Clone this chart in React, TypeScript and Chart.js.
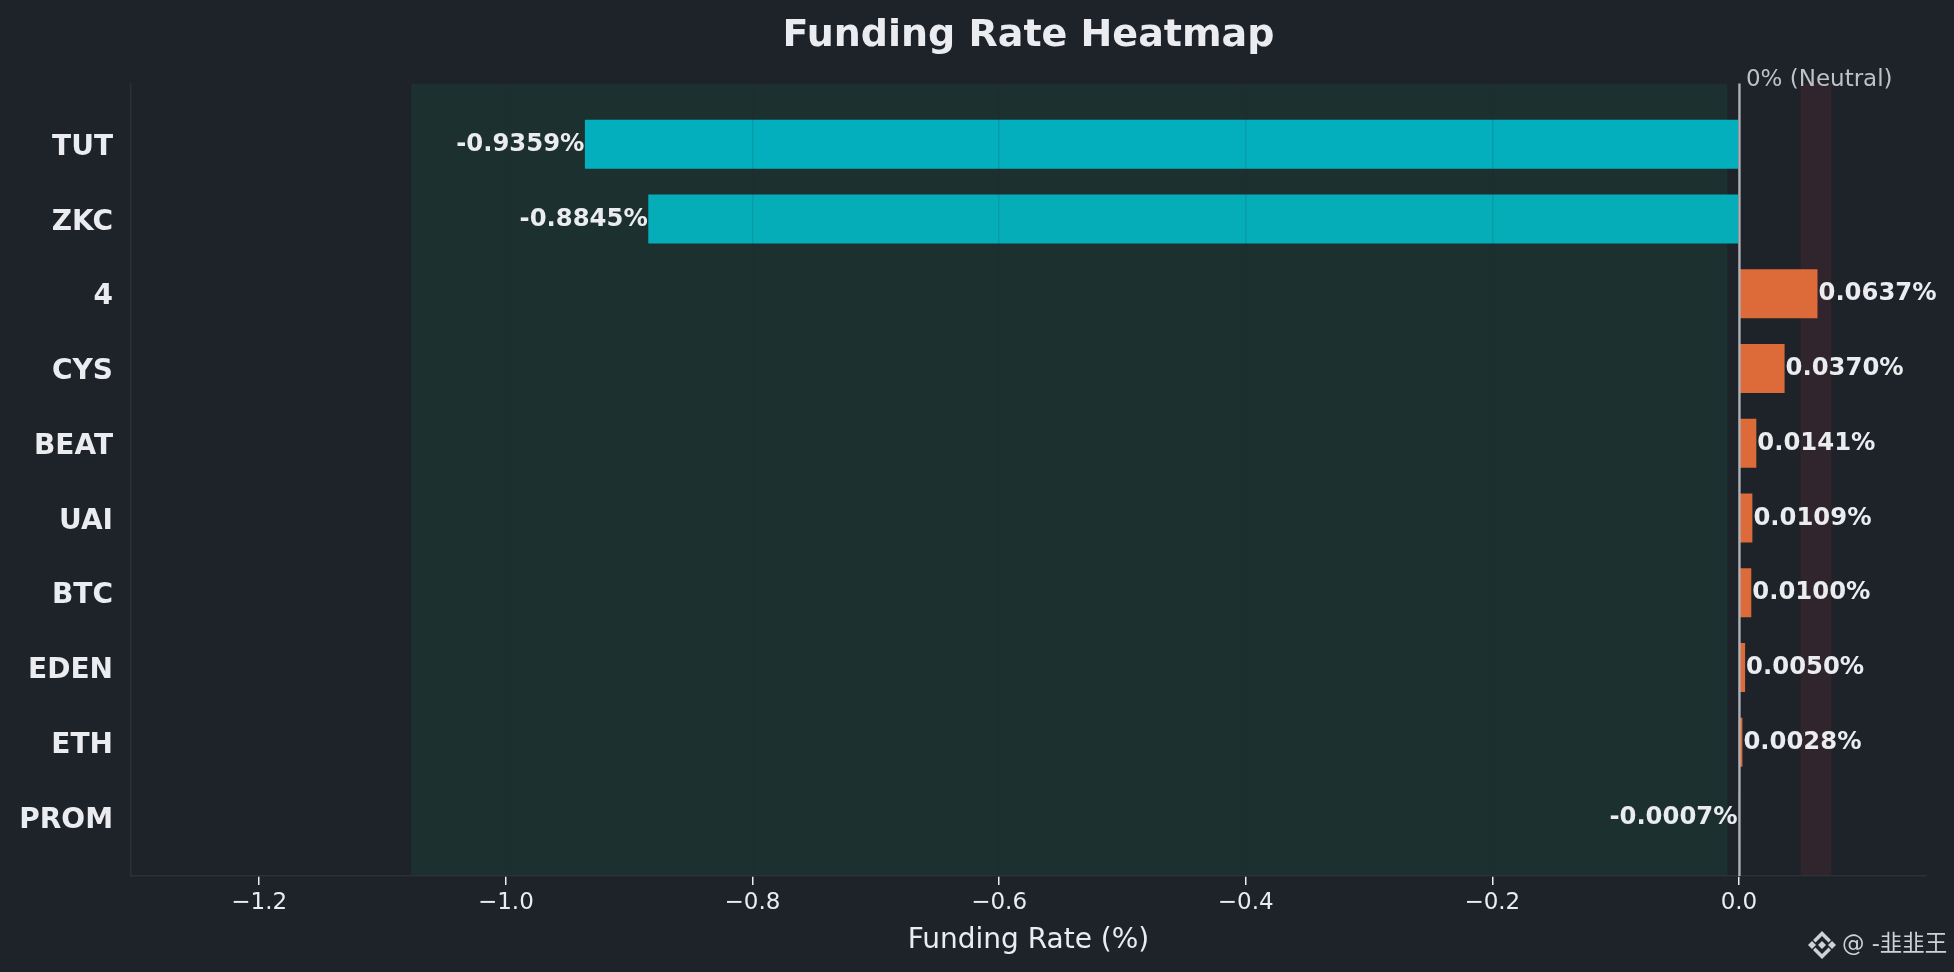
import React, { useEffect, useRef } from "react";
import { Chart, registerables } from "chart.js";

Chart.register(...registerables);

const categories = ["TUT", "ZKC", "4", "CYS", "BEAT", "UAI", "BTC", "EDEN", "ETH", "PROM"];
const fundingRates = [-0.9359, -0.8845, 0.0637, 0.037, 0.0141, 0.0109, 0.01, 0.005, 0.0028, -0.0007];
const valueLabels = ["-0.9359%", "-0.8845%", "0.0637%", "0.0370%", "0.0141%", "0.0109%", "0.0100%", "0.0050%", "0.0028%", "-0.0007%"];
const negativeBand = [-1.076, -0.01];
const positiveBand = [0.05, 0.075];

const FONT = '"DejaVu Sans", sans-serif';
const BG = "#1e2329";
const TEXT = "#eaecef";
const SPINE = "#2b3139";

const decor = {
  id: "decor",
  beforeDraw(c: any) {
    const { ctx, width, height } = c;
    ctx.save();
    ctx.fillStyle = BG;
    ctx.fillRect(0, 0, width, height);
    ctx.restore();
  },
  beforeDatasetsDraw(c: any) {
    const { ctx, chartArea: a, scales } = c;
    const x = scales.x;
    ctx.save();
    const band = (b: number[], fill: string, edge: string) => {
      const l = x.getPixelForValue(b[0]);
      const r = x.getPixelForValue(b[1]);
      ctx.fillStyle = fill;
      ctx.fillRect(l, a.top, r - l, a.bottom - a.top);
      ctx.strokeStyle = edge;
      ctx.lineWidth = 2;
      ctx.beginPath();
      ctx.moveTo(l, a.top);
      ctx.lineTo(l, a.bottom);
      ctx.moveTo(r, a.top);
      ctx.lineTo(r, a.bottom);
      ctx.stroke();
    };
    band(negativeBand, "rgba(14,203,129,0.08)", "rgba(14,203,129,0.05)");
    band(positiveBand, "rgba(246,70,93,0.085)", "rgba(246,70,93,0)");
    ctx.restore();
  },
  afterDraw(c: any) {
    const { ctx, chartArea: a, scales } = c;
    const x = scales.x;
    const y = scales.y;
    ctx.save();
    const zero = x.getPixelForValue(0);
    ctx.strokeStyle = "#aeb1b7";
    ctx.lineWidth = 2.4;
    ctx.beginPath();
    ctx.moveTo(zero + 0.5, a.top);
    ctx.lineTo(zero + 0.5, a.bottom);
    ctx.stroke();

    ctx.font = `bold 24.3px ${FONT}`;
    ctx.fillStyle = TEXT;
    ctx.textBaseline = "middle";
    fundingRates.forEach((v, i) => {
      ctx.textAlign = v < 0 ? "right" : "left";
      ctx.fillText(valueLabels[i], x.getPixelForValue(v) + (v < 0 ? -0.5 : 1), y.getPixelForValue(i) + 0.5);
    });

    ctx.font = `23px ${FONT}`;
    ctx.fillStyle = "#bfc1c6";
    ctx.textAlign = "left";
    ctx.textBaseline = "alphabetic";
    ctx.fillText("0% (Neutral)", zero + 7, 86);

    // watermark
    const cx = 1822;
    const cy = 945;
    ctx.fillStyle = "#cfd1d5";
    const poly = (pts: number[][]) => {
      ctx.beginPath();
      pts.forEach((p, i) => (i ? ctx.lineTo(cx + p[0], cy + p[1]) : ctx.moveTo(cx + p[0], cy + p[1])));
      ctx.closePath();
      ctx.fill();
    };
    poly([[0, -4], [4, 0], [0, 4], [-4, 0]]);
    poly([[-10, -4], [-6, 0], [-10, 4], [-14, 0]]);
    poly([[10, -4], [14, 0], [10, 4], [6, 0]]);
    poly([[0, -14], [9, -5], [6.5, -2.5], [0, -9], [-6.5, -2.5], [-9, -5]]);
    poly([[0, 14], [9, 5], [6.5, 2.5], [0, 9], [-6.5, 2.5], [-9, 5]]);
    ctx.font = `22.5px "DejaVu Sans", "Noto Sans CJK SC", sans-serif`;
    ctx.textAlign = "left";
    ctx.textBaseline = "middle";
    ctx.fillText("@ -韭韭王", 1842, 945);
    ctx.restore();
  },
};

export default function App() {
  const ref = useRef<HTMLCanvasElement>(null);
  useEffect(() => {
    document.body.style.margin = "0";
    document.body.style.background = BG;
    const chart = new Chart(ref.current as HTMLCanvasElement, {
      type: "bar",
      data: {
        datasets: [
          {
            data: fundingRates.map((v, i) => ({ x: v, y: i })),
            backgroundColor: fundingRates.map((v, i) =>
              v >= 0 ? "#dd6b3a" : i === 1 ? "#05adb9" : "#03afbd"
            ),
            barPercentage: 0.655,
            categoryPercentage: 1,
            borderWidth: 0,
          },
        ],
      },
      options: {
        indexAxis: "y",
        responsive: false,
        animation: false,
        devicePixelRatio: 1,
        layout: { padding: { left: 0, right: 28, top: 0, bottom: 0 } },
        plugins: {
          legend: { display: false },
          tooltip: { enabled: false },
          title: {
            display: true,
            text: "Funding Rate Heatmap",
            fullSize: false,
            color: TEXT,
            font: { family: FONT, size: 38, weight: "bold" },
            padding: { top: 13, bottom: 25 },
          },
        },
        scales: {
          x: {
            type: "linear",
            min: -1.304,
            max: 0.1517,
            afterFit: (s: any) => {
              s.height = 96;
            },
            ticks: {
              stepSize: 0.2,
              includeBounds: false,
              color: TEXT,
              font: { family: FONT, size: 23 },
              padding: 4,
              maxRotation: 0,
              callback: (v: any) => Number(v).toFixed(1).replace("-", "\u2212").replace(/^\u22120\.0$/, "0.0"),
            },
            grid: {
              z: 1,
              color: "rgba(30,35,41,0.12)",
              lineWidth: 1.5,
              borderDash: [7, 4],
              tickBorderDash: [],
              tickColor: TEXT,
              tickWidth: 1.5,
              tickLength: 9,
            },
            border: { color: SPINE, width: 1.5, z: 2 },
            title: {
              display: true,
              text: "Funding Rate (%)",
              color: TEXT,
              font: { family: FONT, size: 28 },
              padding: { top: 4, bottom: 14 },
            },
          },
          y: {
            type: "linear",
            reverse: true,
            offset: false,
            min: -0.81,
            max: 9.79,
            afterFit: (s: any) => {
              s.width = 131;
            },
            ticks: {
              stepSize: 1,
              includeBounds: false,
              autoSkip: false,
              color: TEXT,
              font: { family: FONT, size: 28, weight: "bold" },
              padding: 18,
              labelOffset: 3.5,
              callback: (v: any) => categories[v],
            },
            grid: { display: false, drawTicks: false },
            border: { color: SPINE, width: 1.5 },
          },
        },
      },
      plugins: [decor],
    } as any);
    return () => chart.destroy();
  }, []);
  return (
    <canvas
      ref={ref}
      width={1954}
      height={972}
      style={{ position: "fixed", left: 0, top: 0, width: 1954, height: 972, display: "block" }}
    />
  );
}
